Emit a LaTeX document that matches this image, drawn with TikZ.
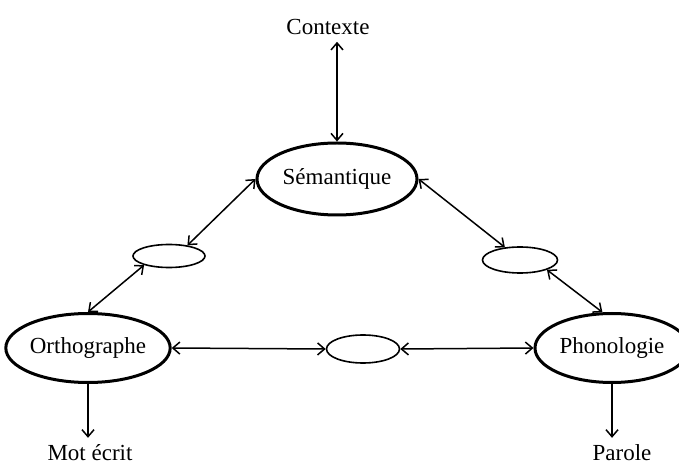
\documentclass[tikz,border=0pt]{standalone}
\usepackage{fontspec}
\setmainfont{Liberation Serif}
\usetikzlibrary{arrows.meta,shapes.geometric,positioning}

\begin{document}
\begin{tikzpicture}[x=0.5pt,y=-0.5pt,
    every node/.style={font=\fontsize{11.5}{13}\selectfont},
    bigell/.style={ellipse,draw,line width=1.5pt,inner sep=0pt},
    smallell/.style={ellipse,draw,line width=0.8pt,inner sep=0pt},
    link/.style={line width=0.75pt,{Straight Barb[length=3.5pt,width=6pt]}-{Straight Barb[length=3.5pt,width=6pt]}},
    outlink/.style={line width=0.75pt,-{Straight Barb[length=3.5pt,width=6pt]}}]
 \useasboundingbox (0,0) rectangle (679,464);
 % main ellipses
 \node[bigell,minimum width=80pt,minimum height=36pt] (sem) at (337,179) {Sémantique};
 \node[bigell,minimum width=78.5pt,minimum height=34.5pt] (ortho) at (88,348) {Orthographe};
 \node[bigell,minimum width=77pt,minimum height=34.5pt] (phono) at (612,348) {Phonologie};
 % small empty ellipses
 \node[smallell,minimum width=36pt,minimum height=11.5pt] (vo1) at (169,256) {};
 \node[smallell,minimum width=37.5pt,minimum height=13pt] (vo2) at (520,260) {};
 \node[smallell,minimum width=36.5pt,minimum height=14pt] (vo3) at (363,349) {};
 % outer labels
 \node (ctx) at (328,27) {Contexte};
 \node (mot) at (90,453) {Mot écrit};
 \node (par) at (622,453) {Parole};

 \draw[link] (sem.north) -- (sem.north |- ctx.south);
 \draw[link] (sem.west) -- (vo1.30);
 \draw[link] (vo1.200) -- (ortho.north);
 \draw[link] (sem.east) -- (vo2.140);
 \draw[link] (vo2.340) -- (phono.105);
 \draw[link] (ortho.east) -- (vo3.west);
 \draw[link] (vo3.east) -- (phono.west);
 \draw[outlink] (ortho.south) -- (ortho.south |- mot.north);
 \draw[outlink] (phono.south) -- (phono.south |- par.north);
\end{tikzpicture}
\end{document}
